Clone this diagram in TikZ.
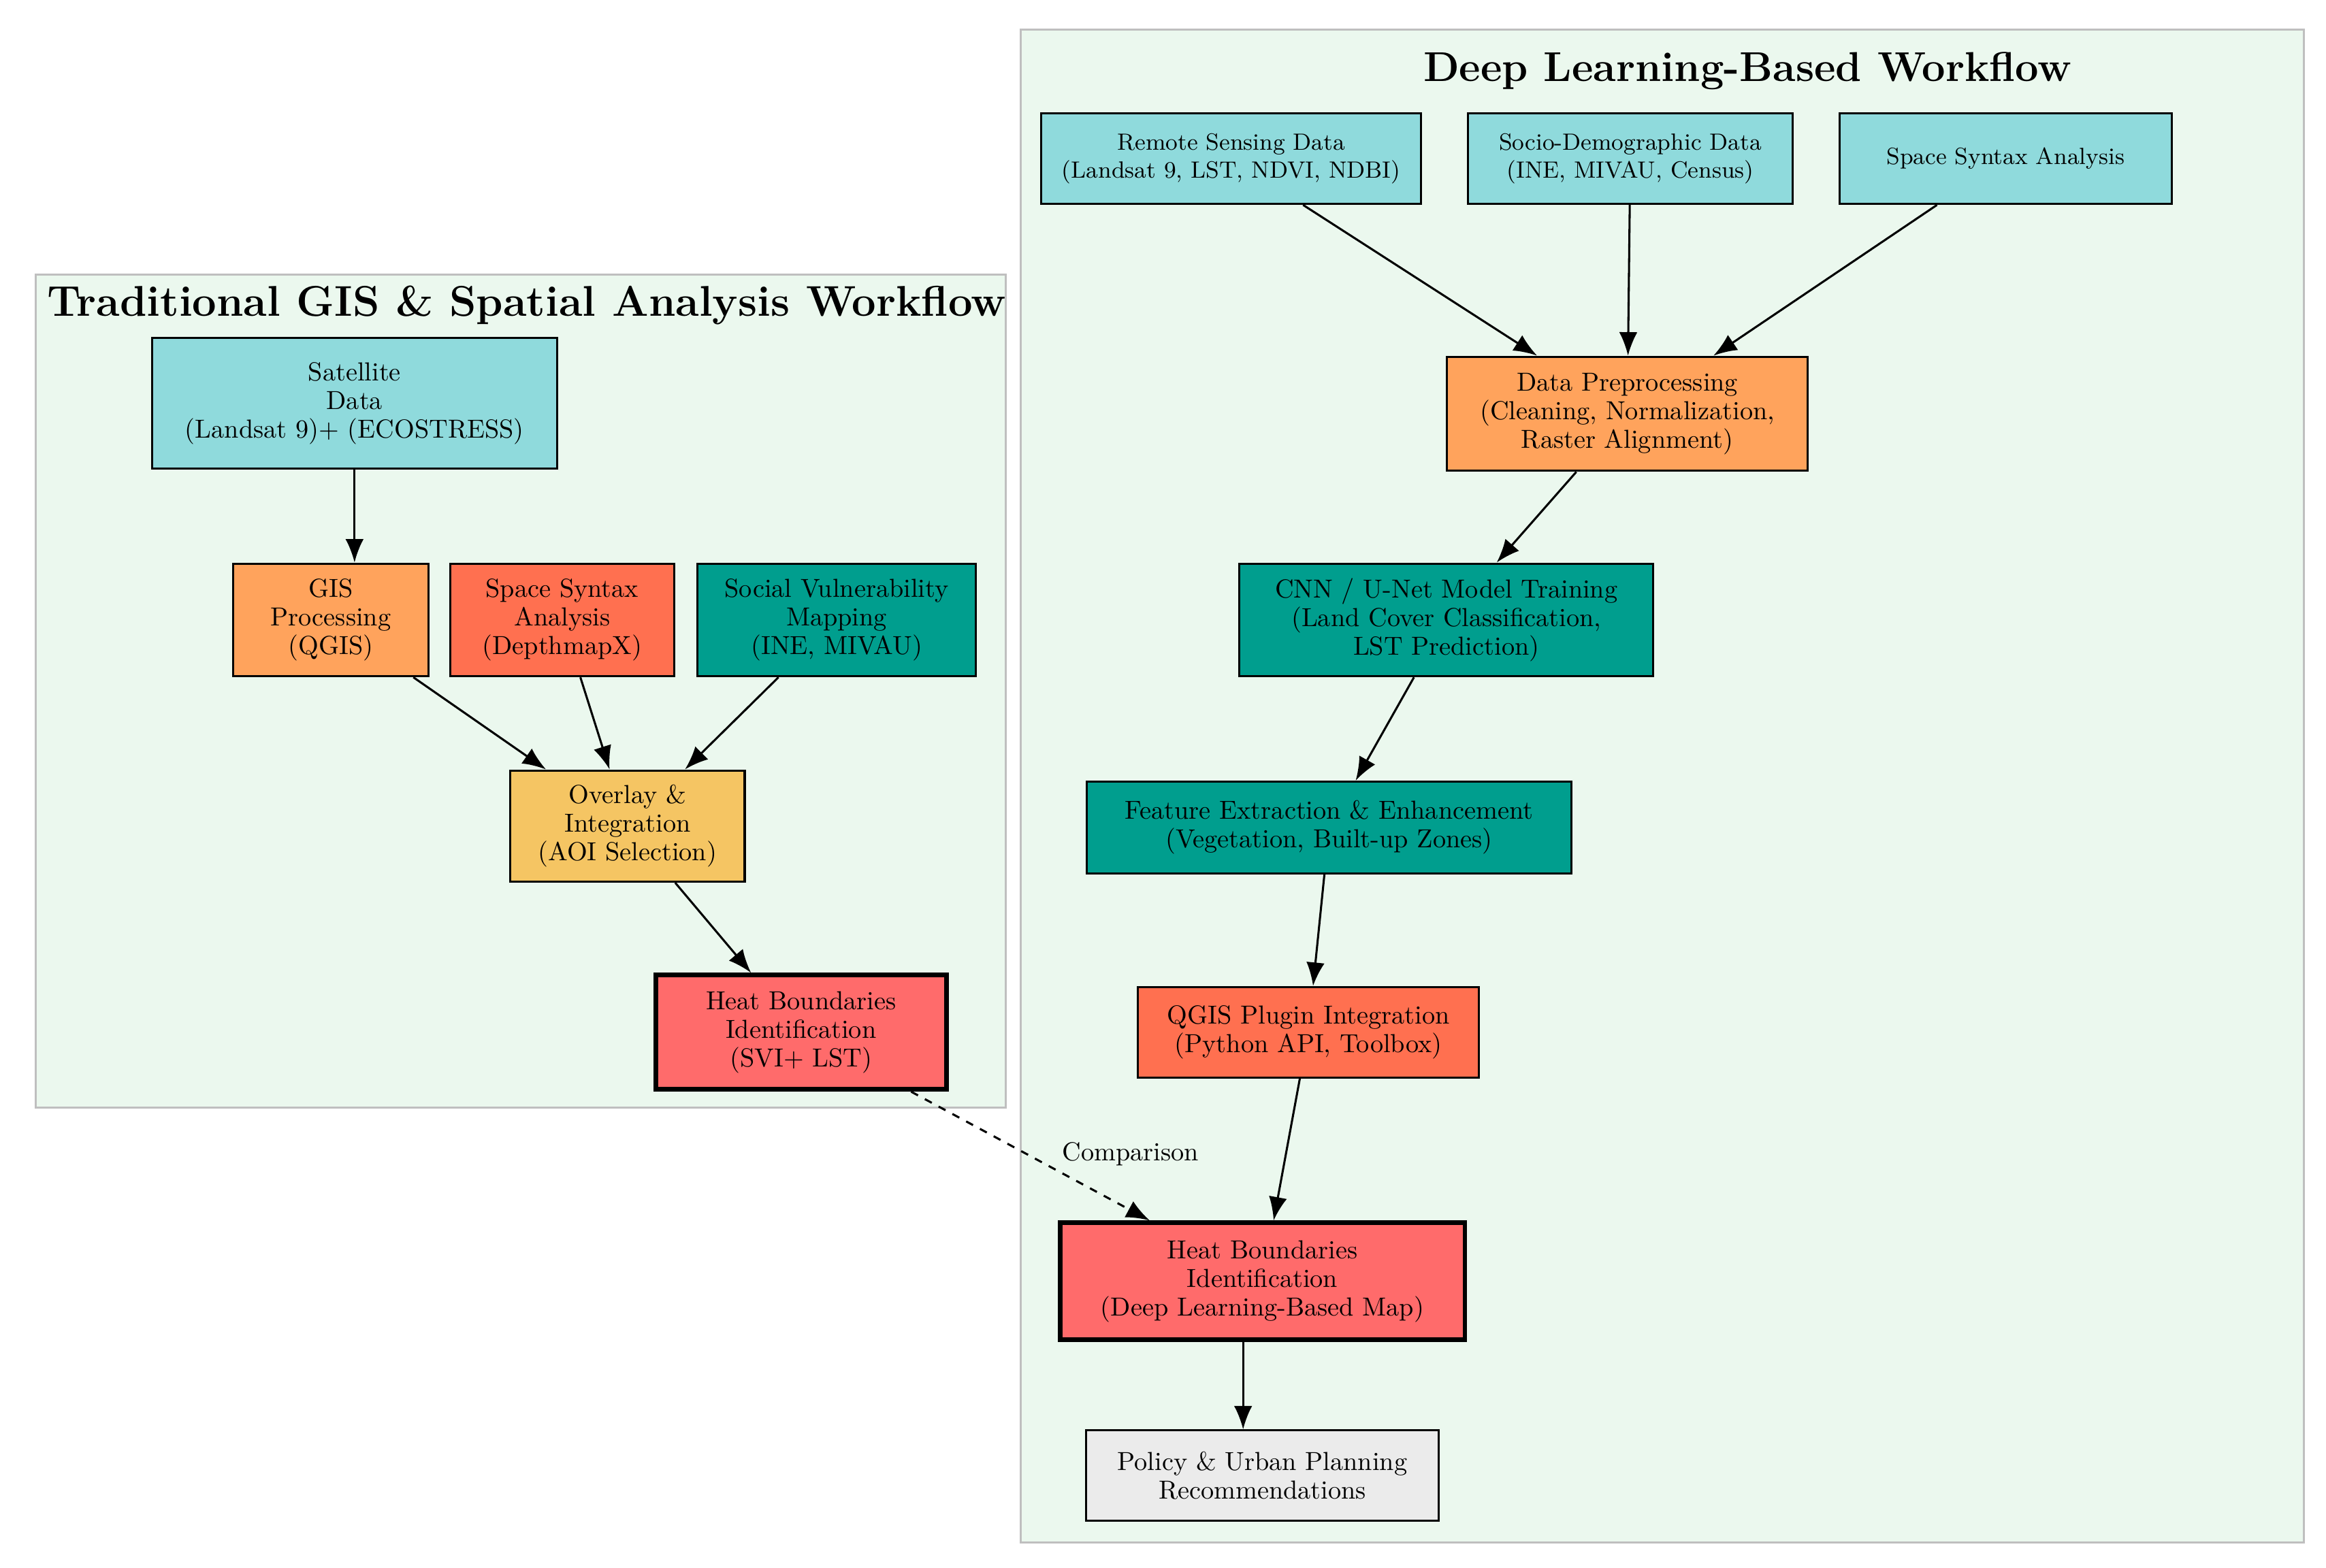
\documentclass[tikz,border=0pt]{standalone}
\usetikzlibrary{arrows.meta}
\definecolor{ccy}{HTML}{8FDADC}
\definecolor{cog}{HTML}{FFA35C}
\definecolor{cco}{HTML}{FF7050}
\definecolor{ctl}{HTML}{009E8E}
\definecolor{cye}{HTML}{F5C563}
\definecolor{crd}{HTML}{FF6B6B}
\definecolor{ccl}{HTML}{EBF8EE}
\begin{document}
\begin{tikzpicture}[x=0.02cm,y=-0.02cm,
  box/.style={draw,thick,align=center,inner sep=1pt,font=\fontsize{10}{11}\selectfont},
  cl/.style={draw=black!25,thick,fill=ccl},
  ar/.style={-{Latex[length=9pt,width=7pt]},thick},
  cy/.style={fill=ccy},
  og/.style={fill=cog},
  co/.style={fill=cco},
  tl/.style={fill=ctl},
  ye/.style={fill=cye},
  rd/.style={fill=crd,line width=1.8pt},
  gy/.style={fill=black!8}]
\useasboundingbox (0,0) rectangle (1568,1057);
\fill[white] (0,0) rectangle (1568,1057);
\draw[cl] (24,185) rectangle (678,747);
\draw[cl] (688,20) rectangle (1553,1040);
\node (t1) at (355,206) {\bfseries\fontsize{16.5}{18}\selectfont Traditional GIS \& Spatial Analysis Workflow};
\node (t2) at (1178,48) {\bfseries\fontsize{16}{18}\selectfont Deep Learning-Based Workflow};
\node[box,cy,minimum width=273*0.02cm,minimum height=88*0.02cm] (sat) at (239,272) {Satellite\\Data\\(Landsat 9)+ (ECOSTRESS)};
\node[box,og,minimum width=132*0.02cm,minimum height=76*0.02cm] (gis) at (223,418) {GIS\\Processing\\(QGIS)};
\node[box,co,minimum width=151*0.02cm,minimum height=76*0.02cm] (ssa) at (379,418) {Space Syntax\\Analysis\\(DepthmapX)};
\node[box,tl,minimum width=188*0.02cm,minimum height=76*0.02cm] (svm) at (564,418) {Social Vulnerability\\Mapping\\(INE, MIVAU)};
\node[box,ye,minimum width=158*0.02cm,minimum height=75*0.02cm] (ovl) at (423,557) {Overlay \&\\Integration\\(AOI Selection)};
\node[box,rd,minimum width=196*0.02cm,minimum height=77*0.02cm] (hbl) at (540,696) {Heat Boundaries\\Identification\\(SVI+ LST)};
\node[box,cy,minimum width=256*0.02cm,minimum height=61*0.02cm,font=\fontsize{9}{10.5}\selectfont] (rsd) at (830,107) {Remote Sensing Data\\(Landsat 9, LST, NDVI, NDBI)};
\node[box,cy,minimum width=219*0.02cm,minimum height=61*0.02cm,font=\fontsize{9}{10.5}\selectfont] (sdd) at (1099,107) {Socio-Demographic Data\\(INE, MIVAU, Census)};
\node[box,cy,minimum width=224*0.02cm,minimum height=61*0.02cm,font=\fontsize{9}{10.5}\selectfont] (ss2) at (1352,107) {Space Syntax Analysis};
\node[box,og,minimum width=243*0.02cm,minimum height=77*0.02cm] (dpp) at (1097,279) {Data Preprocessing\\(Cleaning, Normalization,\\Raster Alignment)};
\node[box,tl,minimum width=279*0.02cm,minimum height=76*0.02cm] (cnn) at (975,418) {CNN / U-Net Model Training\\(Land Cover Classification,\\LST Prediction)};
\node[box,tl,minimum width=327*0.02cm,minimum height=62*0.02cm] (fee) at (896,558) {Feature Extraction \& Enhancement\\(Vegetation, Built-up Zones)};
\node[box,co,minimum width=230*0.02cm,minimum height=61*0.02cm] (qpi) at (882,696) {QGIS Plugin Integration\\(Python API, Toolbox)};
\node[box,rd,minimum width=273*0.02cm,minimum height=79*0.02cm] (hbr) at (851,864) {Heat Boundaries\\Identification\\(Deep Learning-Based Map)};
\node[box,gy,minimum width=238*0.02cm,minimum height=61*0.02cm] (pol) at (851,995) {Policy \& Urban Planning\\Recommendations};
\coordinate (c1) at (838,0);
\draw[ar] (sat) -- (gis.north -| sat);
\draw[ar] (gis) -- (ovl);
\draw[ar] (ssa) -- (ovl);
\draw[ar] (svm) -- (ovl);
\draw[ar] (ovl) -- (hbl);
\draw[ar] (rsd) -- (dpp);
\draw[ar] (sdd) -- (dpp);
\draw[ar] (ss2) -- (dpp);
\draw[ar] (dpp) -- (cnn);
\draw[ar] (cnn) -- (fee);
\draw[ar] (fee) -- (qpi);
\draw[ar] (qpi) -- (hbr);
\draw[ar] (hbr.south -| c1) -- (pol.north -| c1);
\draw[ar,dashed] (hbl) -- (hbr);
\node[font=\fontsize{10}{11}\selectfont] (cmp) at (762,778) {Comparison};
\end{tikzpicture}
\end{document}
